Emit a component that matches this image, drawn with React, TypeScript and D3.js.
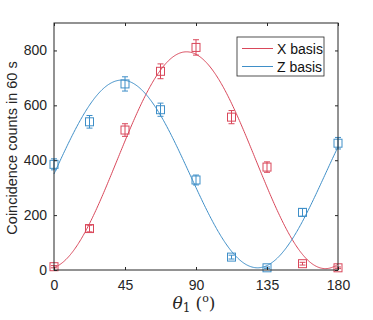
import React, { useRef, useEffect } from "react";
import * as d3 from "d3";

const angles = [0, 22.5, 45, 67.5, 90, 112.5, 135, 157.5, 180];
const xCounts = [12, 151, 510, 724, 811, 557, 375, 23, 8];
const xErrors = [4, 12, 23, 27, 28, 24, 19, 5, 3];
const zCounts = [385, 540, 678, 584, 328, 47, 8, 210, 462];
const zErrors = [20, 23, 26, 24, 18, 7, 3, 14, 21];

// cosine fits: offset, amplitude, peak angle, period
const xFit = { c: 400, a: 395, peak: 84, period: 176 };
const zFit = { c: 350, a: 342, peak: 43, period: 172 };

const xTicks = [0, 45, 90, 135, 180];
const yTicks = [0, 200, 400, 600, 800];
const legendLabels = ["X basis", "Z basis"];

const RED = "#d9475a";
const BLUE = "#3f8fc8";

const W = 373;
const H = 320;
const margin = { top: 23, right: 35, bottom: 50, left: 54 };

const App = () => {
  const ref = useRef<SVGSVGElement>(null);

  useEffect(() => {
    const svg = d3.select(ref.current);
    svg.selectAll("*").remove();

    const innerW = W - margin.left - margin.right;
    const innerH = H - margin.top - margin.bottom;

    const x = d3.scaleLinear().domain([0, 180]).range([0, innerW]);
    const y = d3.scaleLinear().domain([0, 900]).range([innerH, 0]);

    const g = svg.append("g").attr("transform", `translate(${margin.left},${margin.top})`);
    const font = "Liberation Sans, Arial, sans-serif";

    // fitted curves
    const samples = d3.range(0, 180.5, 0.5);
    const fitLine = (f) =>
      d3.line<number>()
        .x((t) => x(t))
        .y((t) => y(f.c + f.a * Math.cos((2 * Math.PI * (t - f.peak)) / f.period)));

    g.append("path").datum(samples).attr("d", fitLine(xFit)).attr("fill", "none").attr("stroke", RED).attr("stroke-width", 1);
    g.append("path").datum(samples).attr("d", fitLine(zFit)).attr("fill", "none").attr("stroke", BLUE).attr("stroke-width", 1);

    const drawSeries = (vals, errs, color) => {
      const grp = g.append("g").attr("stroke", color).attr("fill", "none").attr("stroke-width", 1);
      angles.forEach((a, i) => {
        const cx = x(a);
        const lo = y(vals[i] - errs[i]);
        const hi = y(vals[i] + errs[i]);
        grp.append("line").attr("x1", cx).attr("x2", cx).attr("y1", lo).attr("y2", hi);
        grp.append("line").attr("x1", cx - 3).attr("x2", cx + 3).attr("y1", lo).attr("y2", lo);
        grp.append("line").attr("x1", cx - 3).attr("x2", cx + 3).attr("y1", hi).attr("y2", hi);
        grp.append("rect")
          .attr("x", cx - 4).attr("y", y(vals[i]) - 4)
          .attr("width", 8).attr("height", 8);
      });
    };
    drawSeries(xCounts, xErrors, RED);
    drawSeries(zCounts, zErrors, BLUE);

    // axes box
    g.append("rect").attr("width", innerW).attr("height", innerH)
      .attr("fill", "none").attr("stroke", "#262626").attr("stroke-width", 1);

    const bottom = g.append("g").attr("transform", `translate(0,${innerH})`)
      .call(d3.axisBottom(x).tickValues(xTicks).tickSizeInner(-3).tickSizeOuter(0).tickPadding(10));
    const top = g.append("g")
      .call(d3.axisTop(x).tickValues(xTicks).tickSizeInner(-3).tickSizeOuter(0).tickFormat(() => ""));
    const left = g.append("g")
      .call(d3.axisLeft(y).tickValues(yTicks).tickSizeInner(-3).tickSizeOuter(0).tickPadding(7));
    const right = g.append("g").attr("transform", `translate(${innerW},0)`)
      .call(d3.axisRight(y).tickValues(yTicks).tickSizeInner(-3).tickSizeOuter(0).tickFormat(() => ""));

    [bottom, top, left, right].forEach((ax) => {
      ax.select(".domain").remove();
      ax.selectAll("line").attr("stroke", "#262626");
      ax.selectAll("text").attr("fill", "#262626").attr("font-size", 14).attr("font-family", font);
    });

    // y label
    svg.append("text")
      .attr("transform", `translate(17,148) rotate(-90)`)
      .attr("text-anchor", "middle")
      .attr("font-family", font).attr("font-size", 14.5).attr("fill", "#262626")
      .text("Coincidence counts in 60 s");

    // x label
    const xl = svg.append("text")
      .attr("x", margin.left + innerW / 2 - 2).attr("y", 309)
      .attr("text-anchor", "middle")
      .attr("font-family", "DejaVu Serif, Liberation Serif, serif").attr("fill", "#262626");
    xl.append("tspan").attr("font-style", "italic").attr("font-size", 17).text("θ");
    xl.append("tspan").attr("font-size", 12).attr("dy", 3).text("1");
    xl.append("tspan").attr("font-size", 17).attr("dy", -3).attr("dx", 5).text("(");
    xl.append("tspan").attr("font-size", 11).attr("dy", -7).text("o");
    xl.append("tspan").attr("font-size", 17).attr("dy", 7).text(")");

    // legend
    const lg = svg.append("g").attr("transform", "translate(237,37)");
    lg.append("rect").attr("width", 87).attr("height", 39)
      .attr("fill", "white").attr("stroke", "#262626").attr("stroke-width", 0.8);
    [RED, BLUE].forEach((c, i) => {
      const yy = 11.5 + i * 18;
      lg.append("line").attr("x1", 5).attr("x2", 36).attr("y1", yy).attr("y2", yy).attr("stroke", c).attr("stroke-width", 1);
      lg.append("text").attr("x", 40).attr("y", yy + 5)
        .attr("font-family", font).attr("font-size", 14).attr("fill", "#111")
        .text(legendLabels[i]);
    });
  }, []);

  return <svg ref={ref} width={W} height={H} style={{ position: "absolute", left: 0, top: 0 }} />;
};

export default App;
